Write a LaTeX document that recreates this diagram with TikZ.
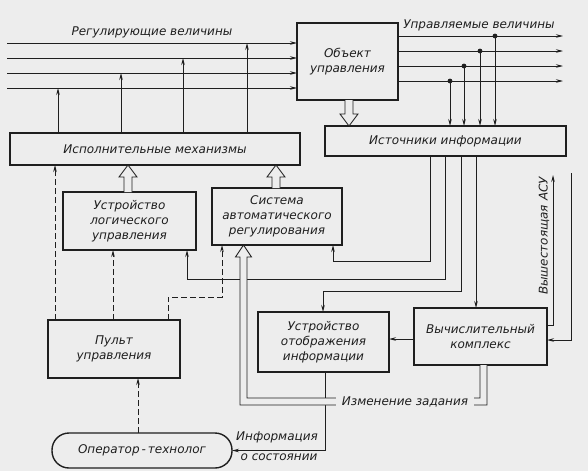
\documentclass[tikz,border=0pt]{standalone}
\usepackage{fontspec}
\setmainfont{DejaVu Sans}
\usetikzlibrary{arrows.meta,calc}
\definecolor{paper}{gray}{0.93}
\definecolor{ink}{gray}{0.12}
\newcommand\dgfont{\itshape\fontsize{12}{15}\selectfont}
\begin{document}
\begin{tikzpicture}[x=1pt,y=-1pt,
  box/.style={draw=ink, line width=1.4pt, fill=paper, inner sep=0pt, outer sep=0pt,
              anchor=north west, align=center, font=\dgfont, text=ink},
  conn/.style={draw=ink, line width=0.85pt},
  tip/.style={-{Stealth[length=7pt,width=3.5pt]}},
  dsh/.style={conn, dash pattern=on 6pt off 3pt},
  hollow/.style={draw=ink, line width=0.85pt, fill=paper, line join=miter},
  lbl/.style={font=\dgfont, text=ink, inner sep=1pt}]
\fill[paper] (0,0) rectangle (588,471);
\useasboundingbox (0,0) rectangle (588,471);

% boxes
\node[box, minimum width=101pt, minimum height=77pt] (obj) at (297,23) {Объект\\управления};
\node[box, minimum width=290pt, minimum height=32pt] (im) at (10,133) {Исполнительные механизмы};
\node[box, minimum width=241pt, minimum height=30pt] (src) at (325,126) {Источники информации};
\node[box, minimum width=133pt, minimum height=58pt] (lu) at (63,192) {Устройство\\логического\\управления};
\node[box, minimum width=130pt, minimum height=57pt] (sar) at (212,188) {Система\\автоматического\\регулирования};
\node[box, minimum width=132pt, minimum height=58pt] (pu) at (48,320) {Пульт\\управления};
\node[box, minimum width=131pt, minimum height=60pt] (uoi) at (258,312) {Устройство\\отображения\\информации};
\node[box, minimum width=133pt, minimum height=57pt] (vk) at (414,308) {Вычислительный\\комплекс};
\node[box, minimum width=180pt, minimum height=35pt, rounded corners=17pt] (op) at (52,433) {Оператор\,-\,технолог};

% regulating inputs
\coordinate (r1) at (7,43); \coordinate (r2) at (7,58);
\coordinate (r3) at (7,73); \coordinate (r4) at (7,88);
\foreach \r in {r1,r2,r3,r4} \draw[conn,tip] (\r) -- (\r -| obj.west);
\draw[conn,tip] (im.north -| 58,0) -- (r4 -| 58,0);
\draw[conn,tip] (im.north -| 121,0) -- (r3 -| 121,0);
\draw[conn,tip] (im.north -| 183,0) -- (r2 -| 183,0);
\draw[conn,tip] (im.north -| 247,0) -- (r1 -| 247,0);
\node[lbl] (lreg) at (152,32) {Регулирующие величины};

% controlled outputs
\coordinate (q1) at (563,36); \coordinate (q2) at (563,51);
\coordinate (q3) at (563,66); \coordinate (q4) at (563,81);
\foreach \q in {q1,q2,q3,q4} \draw[conn,tip] (\q -| obj.east) -- (\q);
\node[lbl] (lupr) at (479,25) {Управляемые величины};
\foreach \q/\xx in {q1/495,q2/480,q3/464,q4/450}{
  \fill[ink] (\q -| \xx,0) circle (2.4pt);
  \draw[conn,tip] (\q -| \xx,0) -- (src.north -| \xx,0);
}

% hollow arrows
\coordinate (a1s) at (obj.south -| 349,0); \coordinate (a1e) at (src.north -| 349,0);
\filldraw[hollow] ([xshift=-4pt]a1s) -- ([shift={(-4,-12)}]a1e) -- ([shift={(-9,-12)}]a1e) -- (a1e)
  -- ([shift={(9,-12)}]a1e) -- ([shift={(4,-12)}]a1e) -- ([xshift=4pt]a1s);
\coordinate (a2s) at (lu.north -| 128,0); \coordinate (a2e) at (im.south -| 128,0);
\filldraw[hollow] ([xshift=-4pt]a2s) -- ([shift={(-4,12)}]a2e) -- ([shift={(-9,12)}]a2e) -- (a2e)
  -- ([shift={(9,12)}]a2e) -- ([shift={(4,12)}]a2e) -- ([xshift=4pt]a2s);
\coordinate (a3s) at (sar.north -| 276,0); \coordinate (a3e) at (im.south -| 276,0);
\filldraw[hollow] ([xshift=-4pt]a3s) -- ([shift={(-4,12)}]a3e) -- ([shift={(-9,12)}]a3e) -- (a3e)
  -- ([shift={(9,12)}]a3e) -- ([shift={(4,12)}]a3e) -- ([xshift=4pt]a3s);

% from information sources
\draw[conn,tip] (src.south -| 430,0) |- (333,261) -- (sar.south -| 333,0);
\draw[conn,tip] (src.south -| 445,0) |- (187,279) -- (lu.south -| 187,0);
\draw[conn,tip] (src.south -| 461,0) |- (323,291) -- (uoi.north -| 323,0);
\draw[conn,tip] (src.south -| 476,0) -- (vk.north -| 476,0);

% computer -> display
\draw[conn,tip] (vk.west |- 0,339) -- (uoi.east |- 0,339);

% higher-level ACS
\coordinate (asuA) at (553,175); \coordinate (asuB) at (571,173);
\draw[conn,tip] (vk.east |- 0,325) -| (asuA);
\draw[conn,tip] (asuB) |- (vk.east |- 0,340);
\node[lbl, rotate=90] (lasu) at (544,236) {Вышестоящая АСУ};

% dashed control lines
\draw[dsh,tip] (pu.north -| 55,0) -- (im.south -| 55,0);
\draw[dsh,tip] (pu.north -| 113,0) -- (lu.south -| 113,0);
\draw[dsh,tip] (pu.north -| 168,0) |- (222,297) -- (sar.south -| 222,0);
\draw[dsh,tip] (op.north -| 138,0) -- (pu.south -| 138,0);

% display -> operator
\draw[conn,tip] (uoi.south -| 325,0) |- (op.east);
\node[lbl] (linf1) at (277,437) {Информация};
\node[lbl] (linf2) at (279,457) {о состоянии};

% set-point change (wide arrow)
\coordinate (w1) at (sar.south -| 243.5,0);
\filldraw[hollow] (vk.south -| 487,0) -- (487,405) -- (240,405) -- ([shift={(-3.5,12)}]w1)
  -- ([shift={(-8,12)}]w1) -- (w1) -- ([shift={(8,12)}]w1) -- ([shift={(3.5,12)}]w1)
  -- (247,398) -- (480,398) -- (vk.south -| 480,0);
\node[lbl, fill=paper, inner xsep=6pt] (lchg) at (405,401.5) {Изменение задания};
\end{tikzpicture}
\end{document}
